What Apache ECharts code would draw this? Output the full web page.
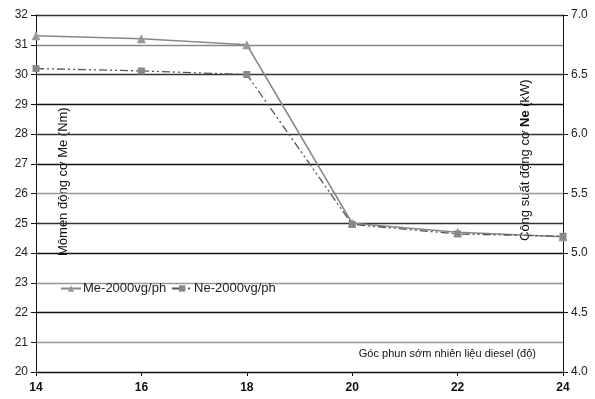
<!DOCTYPE html>
<html>
<head>
<meta charset="utf-8">
<script src="https://cdn.jsdelivr.net/npm/echarts@6/dist/echarts.min.js"></script>
<style>
  html, body { margin: 0; padding: 0; background: #fff; }
  #main { width: 595px; height: 399px; }
</style>
</head>
<body>
<div id="main"></div>
<script>
    // góc phun sớm (độ)
    var angles = [14, 16, 18, 20, 22, 24];
    // Me (Nm) - trục trái
    var meValues = [31.3, 31.2, 31.0, 25.0, 24.7, 24.55];
    // Ne (kW) - trục phải
    var neValues = [6.55, 6.53, 6.5, 5.24, 5.16, 5.14];

    var meName = 'Me-2000vg/ph';
    var neName = 'Ne-2000vg/ph';

    function pairs(xs, ys) {
        var out = [];
        for (var i = 0; i < xs.length; i++) {
            out.push([xs[i], ys[i]]);
        }
        return out;
    }

    var font = 'Arial, "Liberation Sans", sans-serif';
    var myChart = echarts.init(document.getElementById('main'));
    myChart.setOption({
        animation: false,
        textStyle: { fontFamily: font },
        grid: { left: 36, right: 32, top: 15, bottom: 27 },
        legend: {
            left: 55,
            top: 277,
            itemGap: 5,
            itemWidth: 20,
            itemHeight: 8,
            textStyle: { color: '#222', fontSize: 13, fontFamily: font, padding: [0, 0, 0, -3] },
            data: [meName, neName]
        },
        xAxis: {
            type: 'value',
            min: 14,
            max: 24,
            interval: 2,
            axisLine: { lineStyle: { color: '#111' } },
            axisTick: { length: 4, lineStyle: { color: '#111' } },
            axisLabel: { color: '#111', fontWeight: 'bold', fontSize: 12, margin: 10 },
            splitLine: { show: false }
        },
        yAxis: [
            {
                type: 'value',
                min: 20,
                max: 32,
                interval: 1,
                axisLine: { show: true, lineStyle: { color: '#111' } },
                axisTick: { show: true, length: 5, lineStyle: { color: '#111' } },
                axisLabel: { color: '#222', fontSize: 12, margin: 8 },
                splitLine: {
                    lineStyle: {
                        width: 1.3,
                        color: ['#111', '#999', '#111', '#999', '#111', '#333',
                                '#999', '#111', '#333', '#111', '#333', '#888', '#333']
                    }
                }
            },
            {
                type: 'value',
                min: 4,
                max: 7,
                interval: 0.5,
                position: 'right',
                axisLine: { show: true, lineStyle: { color: '#111' } },
                axisTick: { show: true, length: 5, lineStyle: { color: '#111' } },
                axisLabel: {
                    color: '#222', fontSize: 12, margin: 8,
                    formatter: function (v) { return v.toFixed(1); }
                },
                splitLine: { show: false }
            }
        ],
        graphic: [
            {
                type: 'text',
                x: 57, y: 256,
                rotation: Math.PI / 2,
                style: {
                    text: 'Mômen động cơ Me (Nm)',
                    fill: '#111',
                    font: '13px ' + font
                }
            },
            {
                type: 'text',
                x: 519, y: 241,
                rotation: Math.PI / 2,
                style: {
                    text: 'Công suất động cơ {b|Ne} (kW)',
                    fill: '#111',
                    font: '13px ' + font,
                    rich: { b: { fontWeight: 'bold', fontSize: 13, fontFamily: font, fill: '#111' } }
                }
            },
            {
                type: 'text',
                right: 59, top: 348,
                style: {
                    text: 'Góc phun sớm nhiên liệu diesel (độ)',
                    fill: '#111',
                    font: '11px ' + font
                }
            }
        ],
        series: [
            {
                name: meName,
                type: 'line',
                yAxisIndex: 0,
                symbol: 'triangle',
                symbolSize: 9,
                itemStyle: { color: '#999' },
                lineStyle: { color: '#888', width: 1.5 },
                data: pairs(angles, meValues)
            },
            {
                name: neName,
                type: 'line',
                yAxisIndex: 1,
                symbol: 'rect',
                symbolSize: 7,
                itemStyle: { color: '#888' },
                lineStyle: { color: '#555', width: 1.3, type: [8, 3, 2, 3, 2, 3] },
                data: pairs(angles, neValues)
            }
        ]
    });
</script>
</body>
</html>
